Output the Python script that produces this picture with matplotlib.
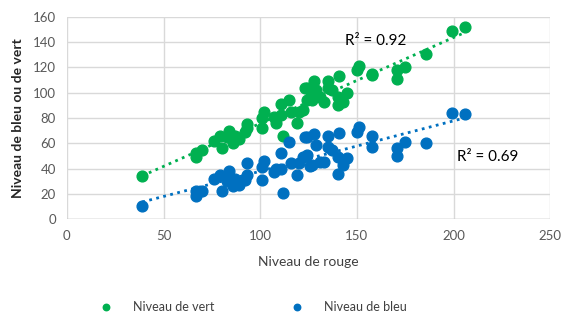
import numpy as np
import matplotlib
matplotlib.use("Agg")
import matplotlib.pyplot as plt

plt.rcParams['font.family'] = ['Lato', 'DejaVu Sans']

# values (rouge, vert, bleu)
rouge = [39, 67, 67, 70, 76, 79, 80, 84, 83, 86, 87, 89, 92, 93, 93,
         101, 101, 102, 107, 108, 111, 112, 111, 115, 116, 119, 120, 124,
         124, 126, 122, 123, 127, 128, 129, 131, 133, 135, 137, 135, 140,
         141, 143, 140, 145, 150, 151, 158, 158, 171, 171, 175, 186, 199, 206]
vert = [34, 52, 49, 55, 62, 66, 56, 70, 65, 60, 66, 63, 69, 75, 72,
        72, 80, 85, 81, 76, 91, 66, 82, 94, 85, 76, 85, 104,
        94, 96, 86, 104, 94, 109, 102, 97, 93, 109, 102, 104, 97,
        113, 93, 90, 100, 118, 121, 115, 114, 118, 111, 120, 131, 149, 152]
bleu = [10, 18, 22, 22, 32, 35, 22, 38, 30, 26, 32, 27, 31, 35, 44,
        31, 41, 46, 37, 40, 52, 21, 40, 61, 44, 35, 44, 65,
        51, 42, 49, 65, 43, 67, 59, 45, 45, 66, 55, 57, 49,
        68, 43, 36, 48, 69, 73, 66, 57, 56, 50, 61, 60, 84, 83]

r2_labels = ["R² = 0.92", "R² = 0.69"]
green = "#00B050"
blue = "#0070C0"

fig = plt.figure(figsize=(5.62, 3.13), dpi=100)
ax = fig.add_axes([0.119, 0.300, 0.860, 0.646])

x = np.array(rouge)
ax.scatter(rouge, vert, s=60, color=green, label="Niveau de vert", zorder=3)
ax.scatter(rouge, bleu, s=60, color=blue, label="Niveau de bleu", zorder=3)

xs = np.array([x.min(), x.max()])
for ys, col in [(vert, green), (bleu, blue)]:
    a, b = np.polyfit(x, ys, 1)
    ax.plot(xs, a * xs + b, linestyle=(0, (1, 1.6)), color=col, lw=2, zorder=2)

ax.text(144, 141, r2_labels[0], fontsize=11, ha="left", va="center")
ax.text(202, 49, r2_labels[1], fontsize=11, ha="left", va="center")

ax.set_xlim(0, 250)
ax.set_ylim(0, 160)
ax.set_xticks(range(0, 251, 50))
ax.set_yticks(range(0, 161, 20))
ax.grid(True, color="#D9D9D9", lw=1)
ax.set_axisbelow(True)
for s in ax.spines.values():
    s.set_visible(False)
ax.axhline(0, color="#BFBFBF", lw=1, zorder=1)
ax.tick_params(length=0, labelsize=9.5, colors="#595959", pad=8)

ax.set_xlabel("Niveau de rouge", fontsize=10, color="#404040", labelpad=10)
ax.set_ylabel("Niveau de bleu ou de vert", fontsize=10, fontweight="bold",
              color="#262626", labelpad=6)

fig.legend(loc="lower center", bbox_to_anchor=(0.445, -0.035), ncol=2,
           frameon=False, fontsize=9, markerscale=0.6, columnspacing=5.6,
           handletextpad=1.2, labelcolor="#404040")

fig.savefig("out.png", dpi=100)
